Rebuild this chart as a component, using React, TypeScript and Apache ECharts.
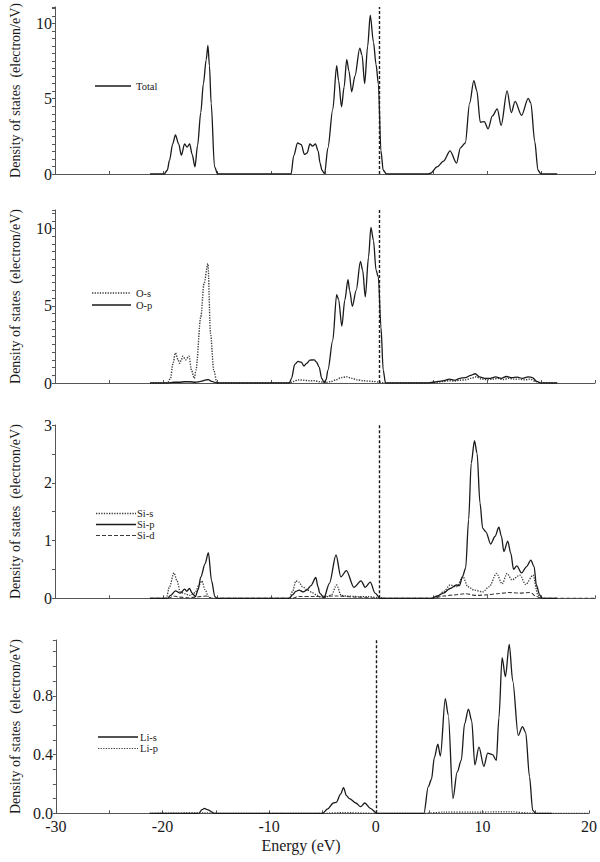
import React, { useEffect, useRef } from 'react';
import * as echarts from 'echarts';

const FONT = "'Liberation Serif', 'Times New Roman', serif";

// ---- Axis tick labels ----
const xTickLabels = [-30, -20, -10, 0, 10, 20];
const yName = 'Density of states  (electron/eV)';
const xName = 'Energy (eV)';

// ---- Panel 1: Total ----
const totalE = [-21.2, -19.9, -19.6, -19.4, -19.1, -18.85, -18.55, -18.3, -18.0, -17.77, -17.53, -17.3, -17.04, -16.8, -16.5, -16.26, -16.0, -15.84, -15.7, -15.54, -15.23, -14.93,
  -8.4, -8.14, -7.9, -7.54, -7.2, -6.9, -6.65, -6.4, -6.15, -5.88, -5.64, -5.45, -5.28, -5.04, -4.73, -4.28, -3.92, -3.74, -3.47, -3.23, -2.99, -2.78, -2.53, -2.23, -1.78, -1.57, -1.33, -1.05, -0.81, -0.51, -0.27, -0.06, 0.18, 0.39, 0.7,
  4.5, 4.77, 5.37, 5.97, 6.58, 7.18, 7.54, 7.99, 8.39, 8.78, 9.05, 9.38, 9.75, 10.1, 10.5, 10.95, 11.31, 11.86, 12.25, 12.6, 13.2, 13.82, 14.06, 14.42, 14.72, 15.0, 16.5];
const totalV = [0, 0, 0.25, 0.9, 2.0, 2.6, 2.0, 1.25, 2.0, 1.78, 2.0, 1.3, 0.47, 1.9, 4.1, 6.0, 7.6, 8.55, 7.2, 4.7, 0.47, 0,
  0, 0, 1.2, 2.06, 1.95, 1.3, 1.4, 2.0, 1.85, 2.0, 1.53, 0.7, 0.25, 0.02, 1.74, 4.29, 7.2, 6.2, 4.46, 5.78, 7.62, 6.83, 5.46, 6.5, 8.36, 7.9, 6.0, 8.5, 10.55, 8.75, 7.26, 6.0, 1.53, 0.25, 0,
  0, 0.05, 0.47, 0.85, 1.53, 0.72, 1.74, 2.06, 4.7, 6.2, 5.56, 3.44, 3.48, 3.0, 3.86, 4.33, 3.23, 5.52, 4.08, 4.82, 3.9, 5.03, 4.71, 2.17, 0.25, 0, 0];

// ---- Panel 2: O ----
const osE = [-21.2, -19.6, -19.3, -19.1, -18.85, -18.6, -18.46, -18.3, -18.16, -17.9, -17.6, -17.35, -17.1, -16.95, -16.5, -16.2, -15.84, -15.6, -15.3, -15.0,
  -8.3, -7.9, -7.5, -7.0, -6.5, -6.0, -5.5, -5.0, -4.5, -4.0, -3.5, -3.0, -2.5, -2.0, -1.5, -1.0, -0.5, 0.0, 0.4, 0.8,
  4.5, 5.0, 5.5, 6.0, 6.5, 7.0, 7.5, 8.0, 8.5, 9.0, 9.5, 10.0, 10.5, 11.0, 11.5, 12.0, 12.5, 13.0, 13.5, 14.0, 14.5, 15.0, 16.5];
const osV = [0, 0, 0.3, 1.2, 1.95, 1.5, 1.27, 1.5, 1.74, 1.5, 1.74, 0.8, 0.3, 0.84, 4.28, 6.43, 7.72, 3.2, 0.84, 0,
  0, 0.1, 0.2, 0.18, 0.15, 0.15, 0.08, 0.03, 0.08, 0.2, 0.35, 0.4, 0.3, 0.2, 0.15, 0.12, 0.1, 0.06, 0.02, 0,
  0, 0.03, 0.06, 0.1, 0.15, 0.12, 0.18, 0.2, 0.3, 0.4, 0.25, 0.22, 0.25, 0.3, 0.22, 0.3, 0.25, 0.25, 0.2, 0.25, 0.1, 0, 0];

const opE = [-21.2, -19.6, -19.0, -18.5, -18.0, -17.5, -17.0, -16.5, -16.0, -15.8, -15.5, -15.0,
  -8.3, -8.1, -7.8, -7.5, -7.2, -6.95, -6.7, -6.4, -6.0, -5.8, -5.55, -5.3, -5.1, -4.9, -4.73, -4.28, -3.92, -3.74, -3.44, -3.17, -2.87, -2.72, -2.47, -2.11, -1.72, -1.51, -1.27, -0.97, -0.75, -0.51, -0.27, -0.06, 0.18, 0.39, 0.6,
  4.5, 5.0, 5.5, 6.0, 6.5, 7.0, 7.5, 8.0, 8.5, 8.9, 9.3, 9.8, 10.3, 10.8, 11.3, 11.8, 12.3, 12.8, 13.3, 13.8, 14.2, 14.6, 15.0, 16.5];
const opV = [0, 0, 0.05, 0.05, 0.08, 0.08, 0.05, 0.1, 0.2, 0.22, 0.1, 0,
  0, 0.3, 1.2, 1.4, 1.35, 1.1, 1.27, 1.48, 1.5, 1.37, 1.05, 0.3, 0.05, 0.2, 0.84, 2.77, 5.72, 5.4, 3.68, 5.35, 6.69, 6.0, 4.97, 6.0, 7.87, 7.29, 5.57, 8.15, 10.08, 9.22, 7.29, 6.86, 3.63, 0.84, 0,
  0, 0.05, 0.1, 0.15, 0.25, 0.18, 0.3, 0.35, 0.5, 0.6, 0.4, 0.3, 0.3, 0.4, 0.3, 0.42, 0.35, 0.38, 0.3, 0.4, 0.35, 0.1, 0, 0];

// ---- Panel 3: Si ----
const sisE = [-21.2, -19.7, -19.4, -18.98, -18.7, -18.4, -18.0, -17.5, -17.0, -16.7, -16.4, -16.1, -15.8, -15.5,
  -8.3, -8.0, -7.7, -7.4, -7.1, -6.6, -6.2, -5.8, -5.4, -4.8, -4.4, -3.92, -3.5, -3.0, -2.0, -1.0, 0.0, 0.5,
  4.8, 5.4, 6.0, 6.58, 7.18, 7.78, 8.23, 8.84, 9.6, 10.2, 10.89, 11.4, 11.86, 12.3, 13.06, 13.57, 14.27, 14.7, 15.0, 16.5];
const sisV = [0, 0, 0.2, 0.44, 0.3, 0.11, 0.08, 0.05, 0.1, 0.22, 0.3, 0.15, 0.03, 0,
  0, 0.12, 0.3, 0.28, 0.2, 0.14, 0.1, 0.06, 0.02, 0.03, 0.06, 0.23, 0.05, 0.04, 0.03, 0.03, 0.01, 0,
  0, 0.03, 0.12, 0.23, 0.2, 0.37, 0.2, 0.14, 0.11, 0.2, 0.43, 0.25, 0.43, 0.32, 0.4, 0.24, 0.4, 0.07, 0, 0];

const sipE = [-21.2, -19.6, -19.3, -18.85, -18.4, -18.0, -17.8, -17.55, -17.3, -17.0, -16.75, -16.5, -16.1, -15.8, -15.5, -15.2, -15.0,
  -8.3, -8.0, -7.7, -7.4, -7.0, -6.7, -6.3, -5.85, -5.65, -5.49, -5.1, -4.59, -3.98, -3.53, -3.02, -2.32, -1.66, -1.27, -0.81, -0.36, 0.1,
  4.9, 5.4, 5.97, 6.58, 7.18, 7.45, 7.72, 8.02, 8.3, 8.54, 8.84, 9.08, 9.35, 9.6, 9.9, 10.34, 10.74, 11.1, 11.34, 11.56, 11.92, 12.2, 12.46, 12.76, 13.2, 13.67, 14.06, 14.36, 14.57, 14.87, 15.1, 16.5];
const sipV = [0, 0, 0.05, 0.13, 0.09, 0.16, 0.12, 0.17, 0.09, 0.03, 0.15, 0.37, 0.6, 0.79, 0.3, 0.03, 0,
  0, 0.06, 0.12, 0.14, 0.11, 0.14, 0.22, 0.36, 0.2, 0.09, 0.01, 0.26, 0.75, 0.37, 0.48, 0.19, 0.3, 0.19, 0.28, 0.09, 0,
  0, 0.04, 0.09, 0.17, 0.23, 0.22, 0.37, 0.52, 1.36, 2.34, 2.73, 2.51, 1.65, 1.21, 1.15, 0.94, 1.07, 1.23, 1.07, 0.81, 0.99, 0.78, 0.5, 0.56, 0.44, 0.55, 0.66, 0.55, 0.23, 0.06, 0, 0];

const sidE = [-21.2, -19.5, -19.0, -18.5, -17.5, -16.5, -16.0, -15.5, -8.0, -7.5, -6.0, -4.0, -2.0, 0.0, 5.0, 6.0, 7.0, 8.0, 9.0, 10.0, 11.0, 12.0, 13.0, 14.0, 14.6, 15.0, 20.0];
const sidV = [0, 0, 0.04, 0.02, 0.01, 0.03, 0.04, 0, 0, 0.03, 0.03, 0.04, 0.02, 0, 0, 0.04, 0.06, 0.08, 0.05, 0.06, 0.08, 0.1, 0.09, 0.1, 0.03, 0, 0];

// ---- Panel 4: Li ----
const lisE = [-21.2, -16.6, -16.3, -16.05, -15.8, -15.1,
  -5.0, -4.5, -3.98, -3.7, -3.3, -3.02, -2.75, -2.47, -1.87, -1.42, -1.03, -0.51, 0.1,
  4.52, 4.92, 5.22, 5.5, 5.82, 6.06, 6.52, 6.8, 7.24, 7.63, 8.02, 8.33, 8.69, 9.0, 9.29, 9.68, 10.14, 10.5, 10.95, 11.31, 11.55, 11.85, 12.16, 12.52, 12.85, 13.36, 13.76, 14.06, 14.42, 14.72, 15.0, 16.5];
const lisV = [0, 0, 0.025, 0.034, 0.025, 0,
  0, 0.03, 0.07, 0.075, 0.13, 0.175, 0.12, 0.1, 0.07, 0.045, 0.07, 0.034, 0,
  0, 0.18, 0.23, 0.38, 0.47, 0.39, 0.78, 0.67, 0.1, 0.28, 0.36, 0.61, 0.71, 0.63, 0.33, 0.45, 0.32, 0.41, 0.4, 0.36, 0.65, 1.06, 0.93, 1.15, 0.9, 0.53, 0.59, 0.55, 0.25, 0.02, 0, 0];

const lipE = [-21.2, -16.0, -15.0, -5.0, -3.0, 0.0, 4.5, 6.5, 9.0, 12.5, 15.0, 20.0];
const lipV = [0, 0.003, 0, 0, 0.005, 0, 0, 0.008, 0.008, 0.01, 0, 0];

const pairs = (e: number[], v: number[]) => e.map((x, i) => [x, v[i]]);

const INK = '#1a1a1a';
const GRAY = '#3a3a3a';
const AXIS = '#555';

const panels = [
  { top: 0.5, height: 173.5, max: 11.1, step: 0.5, major: 5, digits: 0 },
  { top: 210, height: 173, max: 11.2, step: 0.5, major: 5, digits: 0 },
  { top: 425, height: 173.3, max: 3, step: 0.5, major: 1, digits: 0 },
  { top: 640, height: 173.3, max: 1.18, step: 0.1, major: 0.4, digits: 1 },
];

type S = { name: string; e: number[]; v: number[]; panel: number; dash: any; color: string; width: number };
const seriesDefs: S[] = [
  { name: 'Total', e: totalE, v: totalV, panel: 0, dash: 'solid', color: INK, width: 1.3 },
  { name: 'O-s', e: osE, v: osV, panel: 1, dash: [1.3, 1.3], color: GRAY, width: 1.4 },
  { name: 'O-p', e: opE, v: opV, panel: 1, dash: 'solid', color: INK, width: 1.3 },
  { name: 'Si-s', e: sisE, v: sisV, panel: 2, dash: [1.3, 1.3], color: GRAY, width: 1.3 },
  { name: 'Si-p', e: sipE, v: sipV, panel: 2, dash: 'solid', color: INK, width: 1.3 },
  { name: 'Si-d', e: sidE, v: sidV, panel: 2, dash: [4, 2], color: GRAY, width: 1.1 },
  { name: 'Li-s', e: lisE, v: lisV, panel: 3, dash: 'solid', color: INK, width: 1.3 },
  { name: 'Li-p', e: lipE, v: lipV, panel: 3, dash: [1.3, 1.3], color: GRAY, width: 1.2 },
];

const legends = [
  { items: ['Total'], x1: 95, x2: 131, tx: 136, ys: [86] },
  { items: ['O-s', 'O-p'], x1: 92, x2: 131, tx: 136, ys: [293, 305] },
  { items: ['Si-s', 'Si-p', 'Si-d'], x1: 96, x2: 136, tx: 137, ys: [513.5, 524.5, 535.5] },
  { items: ['Li-s', 'Li-p'], x1: 98, x2: 138, tx: 140, ys: [737, 748.5] },
];

export default function App() {
  const ref = useRef<HTMLDivElement>(null);
  useEffect(() => {
    const chart = echarts.init(ref.current!, null, { renderer: 'svg' });
    const grid = panels.map((p) => ({ left: 42.5, right: 5, top: p.top, height: p.height, containLabel: false }));
    const xAxis = panels.map((p, i) => ({
      type: 'value', gridIndex: i, min: -30, max: 20, interval: 5,
      axisLine: { show: true, onZero: false, lineStyle: { color: AXIS, width: 1 } },
      axisTick: { show: true, inside: true, length: 3, lineStyle: { color: AXIS } },
      splitLine: { show: false },
      axisLabel: {
        show: i === 3, margin: 5, color: INK, fontFamily: FONT, fontSize: 16,
        formatter: (v: number) => (xTickLabels.includes(v) ? String(v) : ''),
      },
    }));
    const yAxis = panels.map((p, i) => ({
      type: 'value', gridIndex: i, min: 0, max: p.max, interval: p.step,
      axisLine: { show: true, onZero: false, lineStyle: { color: AXIS, width: 1 } },
      axisTick: { show: true, length: 3, lineStyle: { color: AXIS } },
      splitLine: { show: false },
      axisLabel: {
        margin: 3, color: INK, fontFamily: FONT, fontSize: 16,
        formatter: (v: number) => {
          const r = v / p.major;
          return Math.abs(r - Math.round(r)) < 1e-6 ? v.toFixed(p.digits) : '';
        },
      },
      name: yName, nameLocation: 'middle', nameRotate: 90, nameGap: 33,
      nameTextStyle: { fontFamily: FONT, fontSize: 14, color: INK },
    }));
    const series: any[] = seriesDefs.map((s, k) => ({
      type: 'line', name: s.name, xAxisIndex: s.panel, yAxisIndex: s.panel,
      data: pairs(s.e, s.v), showSymbol: false, symbol: 'none', smooth: 0.3, smoothMonotone: 'x',
      lineStyle: { color: s.color, width: s.width, type: s.dash },
      z: s.dash === 'solid' ? 3 : 2,
      markLine: seriesDefs.findIndex((t) => t.panel === s.panel) === k ? {
        symbol: 'none', silent: true, label: { show: false },
        lineStyle: { color: INK, width: 1.4, type: [3, 2] },
        data: [{ xAxis: 0 }],
      } : undefined,
    }));
    const styleFor = (name: string) => seriesDefs.find((s) => s.name === name)!;
    const graphic: any[] = [];
    legends.forEach((lg) => {
      lg.items.forEach((it, j) => {
        const s = styleFor(it);
        graphic.push({ type: 'line', shape: { x1: lg.x1, y1: lg.ys[j], x2: lg.x2, y2: lg.ys[j] },
          style: { stroke: s.color, lineWidth: s.width, lineDash: s.dash === 'solid' ? null : s.dash } });
        graphic.push({ type: 'text', x: lg.tx, y: lg.ys[j],
          style: { text: it, fill: INK, font: `10.5px ${FONT}`, textAlign: 'left', align: 'left', textVerticalAlign: 'middle', verticalAlign: 'middle' } });
      });
    });
    graphic.push({ type: 'text', x: 301, y: 845,
      style: { text: xName, fill: INK, font: `16px ${FONT}`, textAlign: 'center', align: 'center', textVerticalAlign: 'middle', verticalAlign: 'middle' } });
    chart.setOption({ animation: false, backgroundColor: '#fff', grid, xAxis, yAxis, series, graphic });
    return () => chart.dispose();
  }, []);
  return <div ref={ref} style={{ position: 'absolute', left: 0, top: 0, width: 600, height: 862 }} />;
}
